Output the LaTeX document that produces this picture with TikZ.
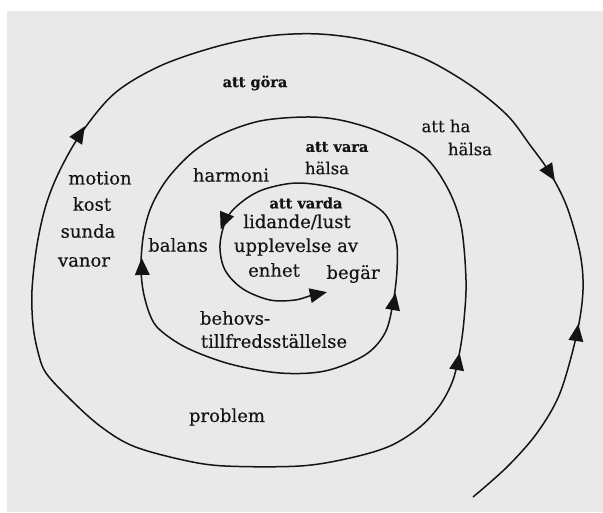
\documentclass[tikz,border=0pt]{standalone}
\usepackage{fontspec}
\setmainfont{DejaVu Serif}
\newfontfamily\lblfont[FakeBold=0.35]{DejaVu Serif}
\newfontfamily\lblbfont[FakeBold=0.6]{DejaVu Serif Bold}
\begin{document}
\begin{tikzpicture}[x=1pt,y=-1pt,
  lbl/.style={font=\lblfont\fontsize{18}{20}\selectfont, text=black!92, inner sep=0pt},
  lblsm/.style={font=\lblfont\fontsize{16.5}{18}\selectfont, text=black!92, inner sep=0pt},
  lblb/.style={font=\lblbfont\fontsize{14.5}{16}\selectfont, text=black!92, inner sep=0pt},
  spiral/.style={line width=1.5pt, draw=black!92, line join=round},
  tri/.style={fill=black!92}]
\useasboundingbox (0,0) rectangle (603,512);
\fill[white] (0,0) rectangle (603,512);
\fill[black!5!white!92!gray] (7,11) rectangle (603,512);
% spiral
\draw[spiral] plot[smooth, tension=0.55] coordinates {
 (473,497) (507,467) (537,433) (560,393) (577,333) (583,290) (580,253) (567,207)
 (550,173) (530,145) (507,115) (470,85) (423,58) (370,41) (319,34) (268,36) (215,47)
 (160,66) (115,93) (82,132) (60,170) (46,205) (37,245) (32,290) (33,325) (38,352)
 (46,373) (70,399) (100,426) (133,446) (183,460) (225,466) (300,466) (350,458)
 (390,446) (420,427) (440,405) (453,380) (460,350) (464,320) (466,280) (461,225)
 (447,187) (423,155) (380,132) (340,120) (305,117) (260,121) (222,134) (193,152)
 (168,178) (152,205) (144,232) (141,263) (143,290) (150,315) (160,330) (187,348)
 (230,364) (280,373) (325,371) (365,355) (385,333) (393,303) (397,270) (396,240)
 (383,212) (345,191) (300,183) (265,189) (243,201) (227,218) (220,245) (225,270)
 (243,289) (270,300) (295,300) (312,295) };
% arrowheads
\fill[tri, shift={(577,333)}, rotate=82] (9,0) -- (-8,7.5) -- (-8,-7.5) -- cycle;
\fill[tri, shift={(550,173)}, rotate=-58] (9,0) -- (-8,7.5) -- (-8,-7.5) -- cycle;
\fill[tri, shift={(80,134)}, rotate=58] (9,0) -- (-8,7.5) -- (-8,-7.5) -- cycle;
\fill[tri, shift={(458,362)}, rotate=80] (9,0) -- (-8,7.5) -- (-8,-7.5) -- cycle;
\fill[tri, shift={(142,267)}, rotate=92] (9,0) -- (-8,7.5) -- (-8,-7.5) -- cycle;
\fill[tri, shift={(394,302)}, rotate=80] (9,0) -- (-8,7.5) -- (-8,-7.5) -- cycle;
\fill[tri, shift={(224,221)}, rotate=-112] (9,0) -- (-8,7.5) -- (-8,-7.5) -- cycle;
\fill[tri, shift={(318,294)}, rotate=12] (9,0) -- (-8,7.5) -- (-8,-7.5) -- cycle;
% labels
\node[lblb] (gora) at (255,83) {att göra};
\node[lblsm] (ha) at (446,126) {att ha};
\node[lblsm] (hah) at (470,149) {hälsa};
\node[lblb] (vara) at (337,147) {att vara};
\node[lblsm] (varah) at (327,168) {hälsa};
\node[lbl] (harm) at (231,175) {harmoni};
\node[lbl] (mot) at (100,178) {motion};
\node[lbl] (kost) at (92,204) {kost};
\node[lbl] (sun) at (88,231) {sunda};
\node[lbl] (van) at (84,262) {vanor};
\node[lbl] (bal) at (178,245) {balans};
\node[lblb] (varda) at (306,203) {att varda};
\node[lbl] (lid) at (297,222) {lidande/lust};
\node[lbl] (upp) at (296,247) {upplevelse av};
\node[lbl] (enh) at (274,270) {enhet};
\node[lbl] (beg) at (353,274) {begär};
\node[lbl] (beh) at (235,318) {behovs-};
\node[lbl] (till) at (274,341) {tillfredsställelse};
\node[lbl] (prob) at (227,417) {problem};
\end{tikzpicture}
\end{document}
